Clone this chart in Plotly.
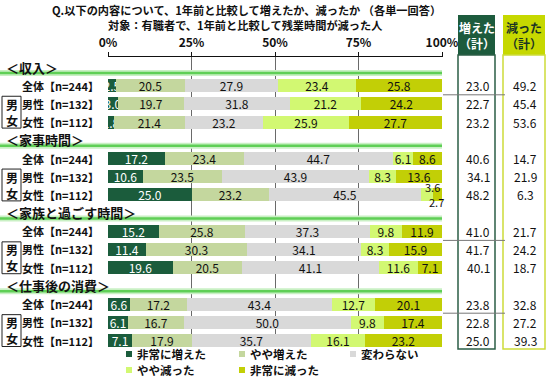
import plotly.graph_objects as go

# ---------------- data ----------------
sections = ["＜収入＞", "＜家事時間＞", "＜家族と過ごす時間＞", "＜仕事後の消費＞"]
row_labels = ["全体【n=244】", "男性【n=132】", "女性【n=112】"]
series_names = ["非常に増えた", "やや増えた", "変わらない", "やや減った", "非常に減った"]
colors = ["#1b5c3c", "#c4d79e", "#d9d9d9", "#d2f872", "#c2cf06"]

very_up = [2.5, 3.0, 1.8, 17.2, 10.6, 25.0, 15.2, 11.4, 19.6, 6.6, 6.1, 7.1]
slightly_up = [20.5, 19.7, 21.4, 23.4, 23.5, 23.2, 25.8, 30.3, 20.5, 17.2, 16.7, 17.9]
no_change = [27.9, 31.8, 23.2, 44.7, 43.9, 45.5, 37.3, 34.1, 41.1, 43.4, 50.0, 35.7]
slightly_down = [23.4, 21.2, 25.9, 6.1, 8.3, 3.6, 9.8, 8.3, 11.6, 12.7, 9.8, 16.1]
very_down = [25.8, 24.2, 27.7, 8.6, 13.6, 2.7, 11.9, 15.9, 7.1, 20.1, 17.4, 23.2]
up_total = [23.0, 22.7, 23.2, 40.6, 34.1, 48.2, 41.0, 41.7, 40.1, 23.8, 22.8, 25.0]
down_total = [49.2, 45.4, 53.6, 14.7, 21.9, 6.3, 21.7, 24.2, 18.7, 32.8, 27.2, 39.3]

tick_vals = [0, 25, 50, 75, 100]
tick_labels = ["0%", "25%", "50%", "75%", "100%"]

title1 = "Q.以下の内容について、1年前と比較して増えたか、減ったか （各単一回答）"
title2 = "対象：有職者で、1年前と比較して残業時間が減った人"
head_up = "増えた<br>（計）"
head_down = "減った<br>（計）"

# ---------------- layout helpers ----------------
W, H = 550, 380
PL, PT, PB = 108, 57, 347
UNIT = 3.34            # pixels per percentage point
PW = 335               # plot width in pixels (a hair past 100%)
XMAX = PW / UNIT
ROW0, SLOT = 85.7, 18.2
FONT = "Noto Sans CJK JP"


def xp(pix):
    return (pix - PL) / PW


def yp(pix):
    return (PB - pix) / (PB - PT)


def yk(k):
    return yp(ROW0 + SLOT * k)


def note(x, y, text, size=12, color="#111", xanchor="center", **kw):
    d = dict(x=x, y=y, xref="paper", yref="paper", text=text, showarrow=False,
             xanchor=xanchor, yanchor="middle", font=dict(family=FONT, size=size, color=color))
    d.update(kw)
    return d


series = [very_up, slightly_up, no_change, slightly_down, very_down]
ypos = [4 * s + r for s in range(len(sections)) for r in range(len(row_labels))]
ymin_k = (PT - ROW0) / SLOT
ymax_k = (PB - ROW0) / SLOT

fig = go.Figure()
outside_labels = []
for i, (name, vals, col) in enumerate(zip(series_names, series, colors)):
    texts = []
    for j, v in enumerate(vals):
        if i >= 3 and slightly_down[j] < 5 and very_down[j] < 5:
            texts.append("")
            outside_labels.append((i, j, v))
        else:
            texts.append(f"{v:.1f}")
    fig.add_trace(go.Bar(
        x=vals, y=ypos, orientation="h", name=name, marker=dict(color=col, line=dict(width=0)),
        width=0.72, text=texts, textposition="inside", insidetextanchor="middle",
        textangle=0, cliponaxis=False,
        textfont=dict(family=FONT, size=12, color="white" if i == 0 else "#111111"),
        showlegend=False, hoverinfo="skip",
    ))

annotations = []
shapes = []

# outside labels for tiny segments (3.6 / 2.7)
for i, j, v in outside_labels:
    total = sum(s[j] for s in series)
    dy = -0.42 if i == 3 else 0.38
    annotations.append(dict(x=total, y=ypos[j] + dy, xref="x", yref="y", text=f"{v:.1f}",
                            showarrow=False, xanchor="right", yanchor="middle", xshift=0 if i == 3 else 4,
                            font=dict(family=FONT, size=11, color="#111")))

# titles
annotations.append(note(xp(246), yp(10), f"<b>{title1}</b>", size=11.2))
annotations.append(note(xp(245), yp(25), f"<b>{title2}</b>", size=11.2))

# table headers
shapes.append(dict(type="rect", xref="paper", yref="paper", x0=xp(458), x1=xp(495), y0=yp(15), y1=yp(55),
                   fillcolor="#1d5b3d", line=dict(width=0)))
shapes.append(dict(type="rect", xref="paper", yref="paper", x0=xp(503), x1=xp(545), y0=yp(15), y1=yp(55),
                   fillcolor="#c6d800", line=dict(width=0)))
annotations.append(note(xp(476.5), yp(35), f"<b>{head_up}</b>", size=12, color="white"))
annotations.append(note(xp(524), yp(35), f"<b>{head_down}</b>", size=12, color="#1a3324"))
shapes.append(dict(type="rect", xref="paper", yref="paper", x0=xp(458), x1=xp(495), y0=yp(55), y1=yp(349),
                   line=dict(color="#2b5e45", width=1.5), fillcolor="rgba(0,0,0,0)"))
shapes.append(dict(type="rect", xref="paper", yref="paper", x0=xp(503), x1=xp(545), y0=yp(55), y1=yp(349),
                   line=dict(color="#cddc3a", width=1.5), fillcolor="rgba(0,0,0,0)"))

# table values
for j, k in enumerate(ypos):
    annotations.append(note(xp(478), yk(k), f"{up_total[j]:.1f}", size=12))
    annotations.append(note(xp(525), yk(k), f"{down_total[j]:.1f}", size=12))

# separator lines in the table (between 全体 and 男女 rows)
for s in [0, 2, 3]:
    yy = yk(4 * s + 0.5)
    shapes.append(dict(type="line", xref="paper", yref="paper", x0=xp(443), x1=xp(505), y0=yy, y1=yy,
                       line=dict(color="#777777", width=1)))

# section headers, green lines, row labels, 男女 boxes
for s, sec in enumerate(sections):
    hk = 4 * s - 1
    ly = yk(hk + 0.3)
    shapes.append(dict(type="line", xref="paper", yref="paper", x0=xp(0), x1=xp(442), y0=ly, y1=ly,
                       line=dict(color="#c9f0c4", width=6), layer="above"))
    shapes.append(dict(type="line", xref="paper", yref="paper", x0=xp(0), x1=xp(442), y0=ly, y1=ly,
                       line=dict(color="#5fcf56", width=2.5), layer="above"))
    annotations.append(note(xp(4), yk(hk - 0.02), f"<b>{sec}</b>", size=13, xanchor="left"))
    for r, lab in enumerate(row_labels):
        annotations.append(note(xp(101), yk(4 * s + r), f"<b>{lab}</b>", size=11, xanchor="right"))
    shapes.append(dict(type="rect", xref="paper", yref="paper", x0=xp(2), x1=xp(21),
                       y0=yk(4 * s + 0.58), y1=yk(4 * s + 2.33),
                       line=dict(color="#222", width=1), fillcolor="white"))
    annotations.append(note(xp(11.5), yk(4 * s + 1.02), "<b>男</b>", size=12))
    annotations.append(note(xp(11.5), yk(4 * s + 1.9), "<b>女</b>", size=12))

# custom legend
legend_pos = [(129, 354), (242, 354), (353, 354), (129, 370), (242, 370)]
for (lx, ly), name, col in zip(legend_pos, series_names, colors):
    shapes.append(dict(type="rect", xref="paper", yref="paper", x0=xp(lx - 3), x1=xp(lx + 3),
                       y0=yp(ly - 3), y1=yp(ly + 3), fillcolor=col, line=dict(width=0)))
    annotations.append(note(xp(lx + 6), yp(ly), f"<b>{name}</b>", size=11.5, xanchor="left"))

fig.update_layout(
    width=W, height=H,
    margin=dict(l=PL, r=W - PL - PW, t=PT, b=H - PB, pad=0),
    barmode="stack", bargap=0,
    paper_bgcolor="white", plot_bgcolor="white",
    uniformtext=dict(minsize=12, mode="show"),
    xaxis=dict(range=[0, XMAX], side="top", tickvals=tick_vals,
               ticktext=[f"<b>{t}</b>" for t in tick_labels], ticklabelstandoff=0,
               ticks="outside", ticklen=4, tickcolor="#111", showline=True, linecolor="#111", linewidth=1,
               showgrid=True, gridcolor="#6a6a6a", gridwidth=1, zeroline=False, fixedrange=True,
               tickfont=dict(family=FONT, size=12, color="#111")),
    yaxis=dict(range=[ymax_k, ymin_k], visible=False, fixedrange=True),
    shapes=shapes, annotations=annotations,
    font=dict(family=FONT),
)

fig.write_html("out.html", config={"displayModeBar": False},
               post_script="document.body.style.margin='0px';document.body.style.padding='0px';")
